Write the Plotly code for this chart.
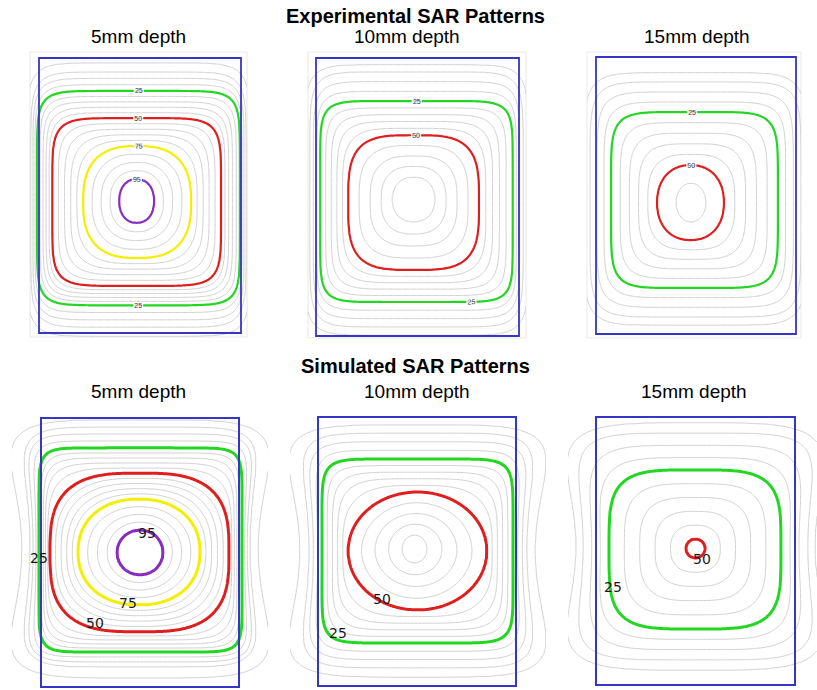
import numpy as np
import plotly.graph_objects as go

W, H = 817, 690

# ---------------- data (mm, % of max SAR) ----------------
APERTURE_W_MM = 60.0
APERTURE_H_MM = 80.0

# Each iso-SAR contour: level, extents (left/right/top/bottom, mm), squareness exponent, waist factor
EXP5_LEVEL  = [0, 5, 10, 25, 50, 75, 95, 100]
EXP5_LEFT   = [-40, -33.6, -32.4, -30.6, -26.1, -16.9, -6.2, -1.4]
EXP5_RIGHT  = [40, 32.7, 31.5, 29.7, 24.1, 15.2, 4.2, -0.7]
EXP5_TOP    = [44, 38.5, 35.9, 30.4, 22.5, 14.4, 4.8, -1.2]
EXP5_BOTTOM = [-46, -40.9, -38.3, -31.9, -26.3, -18.2, -8.0, -2.0]
EXP5_SHAPE  = [8, 8, 8, 8, 6, 2.6, 2.2, 2]
EXP5_WAIST  = [0, 0, 0, 0, 0, 0, 0, 0]

EXP10_LEVEL  = [0, 5, 10, 25, 50, 70, 72]
EXP10_LEFT   = [-40, -33.3, -31.8, -28.8, -20.5, -7.5, -1.5]
EXP10_RIGHT  = [40, 32.7, 31.2, 28.2, 18.2, 5.2, -0.8]
EXP10_TOP    = [44, 38.0, 36.0, 27.6, 17.8, 5.8, -0.5]
EXP10_BOTTOM = [-46, -39.7, -37.4, -30.2, -21.0, -7.2, -1.2]
EXP10_SHAPE  = [8, 8, 8, 8, 3.5, 2.2, 2]
EXP10_WAIST  = [0, 0, 0, 0, 0, 0, 0]

EXP15_LEVEL  = [0, 5, 10, 25, 50, 55, 57]
EXP15_LEFT   = [-40, -33.6, -31.8, -25.5, -11.7, -6.0, -1.8]
EXP15_RIGHT  = [40, 33.0, 31.5, 24.6, 8.4, 3.0, -1.2]
EXP15_TOP    = [42, 35.4, 32.8, 24.1, 8.8, 3.6, -1.9]
EXP15_BOTTOM = [-44, -37.4, -35.1, -26.7, -12.9, -7.7, -2.5]
EXP15_SHAPE  = [7, 7, 7, 6, 2.2, 2, 2]
EXP15_WAIST  = [0, 0, 0, 0, 0, 0, 0]

SIM5_LEVEL  = [0, 5, 10, 25, 50, 75, 95, 100]
SIM5_LEFT   = [-40, -35.8, -33.3, -30.6, -27.3, -18.8, -7.0, -0.4]
SIM5_RIGHT  = [40, 35.8, 33.3, 30.9, 27.0, 18.2, 7.0, 0.4]
SIM5_TOP    = [47, 39.4, 37.3, 31.1, 23.6, 15.9, 6.7, 0.4]
SIM5_BOTTOM = [-45, -37.3, -34.0, -29.6, -23.6, -15.6, -6.7, -0.4]
SIM5_SHAPE  = [3, 4.5, 6, 10, 3, 2.2, 2, 2]
SIM5_WAIST  = [0.4, 0.3, 0.15, 0, 0, 0, 0, 0]

SIM10_LEVEL  = [0, 5, 10, 25, 50, 70, 73]
SIM10_LEFT   = [-41, -35.5, -32.7, -28.8, -20.9, -4.5, -1.0]
SIM10_RIGHT  = [41, 35.8, 33.3, 29.1, 21.2, 3.0, -0.2]
SIM10_TOP    = [46, 37.6, 35.2, 27.5, 17.7, 4.9, 1.1]
SIM10_BOTTOM = [-45, -37.3, -34.6, -27.2, -17.4, -3.4, 0.4]
SIM10_SHAPE  = [3, 4.5, 6, 8, 2.0, 2, 2]
SIM10_WAIST  = [0.4, 0.3, 0.15, 0, 0, 0, 0]

SIM15_LEVEL  = [0, 5, 10, 25, 50, 51.5]
SIM15_LEFT   = [-42, -36.0, -33.9, -26.1, -2.9, -0.3]
SIM15_RIGHT  = [42, 36.0, 33.9, 25.8, 2.9, 0.3]
SIM15_TOP    = [46, 38.2, 35.2, 24.2, 3.6, 1.05]
SIM15_BOTTOM = [-44, -35.5, -32.5, -23.3, -2.1, 0.45]
SIM15_SHAPE  = [3, 4, 5, 4, 2, 2]
SIM15_WAIST  = [0.4, 0.3, 0.15, 0, 0, 0]

GRAY_LEVELS = (5, 95, 5)
HIGHLIGHT_LEVELS = [25, 50, 75, 95]

SUBTITLES = ["5mm depth", "10mm depth", "15mm depth"]
ROW_TITLES = ["Experimental SAR Patterns", "Simulated SAR Patterns"]

# ---------------- layout (pixels) ----------------
PANELS = [
    dict(rect=(39, 241, 58, 333), region=(30, 247, 52, 337), row=0),
    dict(rect=(316, 519, 58, 336), region=(308, 526, 52, 338), row=0),
    dict(rect=(596, 796, 57, 334), region=(587, 801, 52, 338), row=0),
    dict(rect=(41, 239, 418, 687), region=(12, 268, 398, 690), row=1),
    dict(rect=(318, 516, 417, 686), region=(290, 546, 398, 690), row=1),
    dict(rect=(596, 795, 417, 685), region=(568, 817, 398, 690), row=1),
]
DATASETS = [
    (EXP5_LEVEL, EXP5_LEFT, EXP5_RIGHT, EXP5_TOP, EXP5_BOTTOM, EXP5_SHAPE, EXP5_WAIST),
    (EXP10_LEVEL, EXP10_LEFT, EXP10_RIGHT, EXP10_TOP, EXP10_BOTTOM, EXP10_SHAPE, EXP10_WAIST),
    (EXP15_LEVEL, EXP15_LEFT, EXP15_RIGHT, EXP15_TOP, EXP15_BOTTOM, EXP15_SHAPE, EXP15_WAIST),
    (SIM5_LEVEL, SIM5_LEFT, SIM5_RIGHT, SIM5_TOP, SIM5_BOTTOM, SIM5_SHAPE, SIM5_WAIST),
    (SIM10_LEVEL, SIM10_LEFT, SIM10_RIGHT, SIM10_TOP, SIM10_BOTTOM, SIM10_SHAPE, SIM10_WAIST),
    (SIM15_LEVEL, SIM15_LEFT, SIM15_RIGHT, SIM15_TOP, SIM15_BOTTOM, SIM15_SHAPE, SIM15_WAIST),
]
SIM_LABELS = [
    [("95", 2.1, 5.8), ("75", -3.6, -15.0), ("50", -13.6, -21.0), ("25", -30.6, -1.6)],
    [("50", -10.6, -14.1), ("25", -23.9, -24.2)],
    [("50", 2.0, -2.4), ("25", -24.9, -10.7)],
]

COLORS = {25: "#22d622", 50: "#de1f1f", 75: "#f4ee00", 95: "#8a2cbf"}
GRAY = "#d0d0d0"
BLUE = "#3535c6"
FONT = "Liberation Sans, Arial, sans-serif"


def field(xg, yg, lv, left, right, top, bottom, shape, waist):
    lv = np.asarray(lv, float)
    left, right, top, bottom = map(lambda a: np.asarray(a, float), (left, right, top, bottom))
    shape, waist = np.asarray(shape, float), np.asarray(waist, float)
    X, Y = np.meshgrid(xg, yg)

    def r_at(L):
        l = np.interp(L, lv, left); rr = np.interp(L, lv, right)
        t = np.interp(L, lv, top); b = np.interp(L, lv, bottom)
        p = np.interp(L, lv, shape); w = np.interp(L, lv, waist)
        cx = (l + rr) / 2; a = (rr - l) / 2
        cy = (t + b) / 2; bh = (t - b) / 2
        dy = (Y - cy) / bh
        dx = (X - cx) / (a * (1 + w * dy ** 2))
        return (np.abs(dx) ** p + np.abs(dy) ** p) ** (1 / p)

    lo = np.full(X.shape, lv[0]); hi = np.full(X.shape, lv[-1])
    inside_lo = r_at(lo) <= 1
    inside_hi = r_at(hi) <= 1
    for _ in range(26):
        mid = (lo + hi) / 2
        ins = r_at(mid) <= 1
        lo = np.where(ins, mid, lo)
        hi = np.where(ins, hi, mid)
    z = (lo + hi) / 2
    z = np.where(inside_lo, z, lv[0])
    z = np.where(inside_hi, lv[-1], z)
    return z


fig = go.Figure()
shapes, annotations = [], []
layout_axes = {}

for i, (pan, data) in enumerate(zip(PANELS, DATASETS)):
    k = i + 1
    xa = "x" if k == 1 else f"x{k}"
    ya = "y" if k == 1 else f"y{k}"
    rx0, rx1, ry0, ry1 = pan["rect"]
    gx0, gx1, gy0, gy1 = pan["region"]
    sx = APERTURE_W_MM / (rx1 - rx0)
    sy = APERTURE_H_MM / (ry1 - ry0)
    cx = (rx0 + rx1) / 2; cy = (ry0 + ry1) / 2
    xr = [(gx0 - cx) * sx, (gx1 - cx) * sx]
    yr = [(cy - gy1) * sy, (cy - gy0) * sy]
    layout_axes["xaxis" if k == 1 else f"xaxis{k}"] = dict(
        domain=[gx0 / W, gx1 / W], range=xr, visible=False, fixedrange=True, anchor=ya)
    layout_axes["yaxis" if k == 1 else f"yaxis{k}"] = dict(
        domain=[1 - gy1 / H, 1 - gy0 / H], range=yr, visible=False, fixedrange=True, anchor=xa)

    xg = np.linspace(xr[0], xr[1], 190)
    yg = np.linspace(yr[0], yr[1], 240)
    z = field(xg, yg, *data)
    top_row = pan["row"] == 0

    fig.add_trace(go.Contour(
        x=xg, y=yg, z=z, xaxis=xa, yaxis=ya, autocontour=False,
        contours=dict(start=GRAY_LEVELS[0], end=GRAY_LEVELS[1], size=GRAY_LEVELS[2], coloring="none"),
        line=dict(color=GRAY, width=1), showscale=False, hoverinfo="skip"))
    zmax = float(np.max(z))
    for L in HIGHLIGHT_LEVELS:
        if L >= zmax:
            continue
        fig.add_trace(go.Contour(
            x=xg, y=yg, z=z, xaxis=xa, yaxis=ya, autocontour=False,
            contours=dict(start=L, end=L + 0.5, size=1, coloring="none",
                          showlabels=top_row,
                          labelfont=dict(size=7, color="#333333", family=FONT)),
            line=dict(color=COLORS[L], width=2.2 if top_row else 3),
            showscale=False, hoverinfo="skip"))

    shapes.append(dict(type="rect", xref=xa, yref=ya,
                       x0=-APERTURE_W_MM / 2, x1=APERTURE_W_MM / 2,
                       y0=-APERTURE_H_MM / 2, y1=APERTURE_H_MM / 2,
                       line=dict(color=BLUE, width=1.8 if top_row else 2)))
    if top_row:
        shapes.append(dict(type="rect", xref="paper", yref="paper",
                           x0=gx0 / W, x1=gx1 / W, y0=1 - gy1 / H, y1=1 - gy0 / H,
                           line=dict(color="#e8e8e8", width=1), layer="below"))
    else:
        for txt, lx, ly in SIM_LABELS[i - 3]:
            annotations.append(dict(text=txt, x=lx, y=ly, xref=xa, yref=ya, showarrow=False,
                                    xanchor="center", yanchor="middle",
                                    font=dict(size=14, color="#1a1a1a", family="DejaVu Sans, sans-serif")))

# titles
for title, ty in zip(ROW_TITLES, [16, 366]):
    annotations.append(dict(text=f"<b>{title}</b>", x=415.5 / W, y=1 - ty / H,
                            xref="paper", yref="paper", showarrow=False,
                            xanchor="center", yanchor="middle",
                            font=dict(size=20, color="black", family=FONT)))
for sub, tx in zip(SUBTITLES, [138, 407, 697]):
    annotations.append(dict(text=sub, x=tx / W, y=1 - 37 / H, xref="paper", yref="paper",
                            showarrow=False, xanchor="center", yanchor="middle",
                            font=dict(size=19, color="black", family=FONT)))
for sub, tx in zip(SUBTITLES, [138, 417, 694]):
    annotations.append(dict(text=sub, x=tx / W, y=1 - 391 / H, xref="paper", yref="paper",
                            showarrow=False, xanchor="center", yanchor="middle",
                            font=dict(size=19, color="black", family=FONT)))

fig.update_layout(width=W, height=H, margin=dict(l=0, r=0, t=0, b=0),
                  paper_bgcolor="white", plot_bgcolor="white",
                  shapes=shapes, annotations=annotations, showlegend=False,
                  **layout_axes)
fig.write_html("out.html", config={"displayModeBar": False},
               post_script="document.body.style.margin='0px';document.body.style.overflow='hidden';")
